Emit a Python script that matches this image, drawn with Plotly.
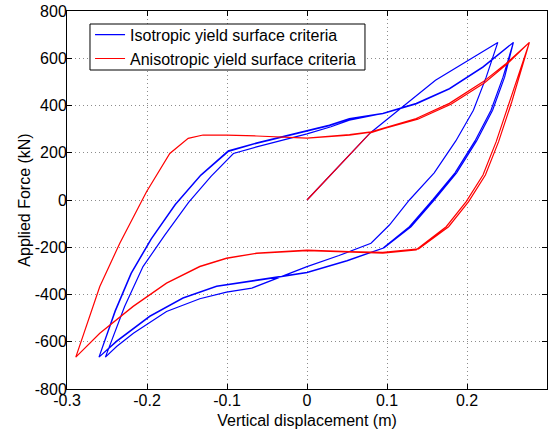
import plotly.graph_objects as go

# Isotropic yield surface criteria (blue): first (thin) cycle, then two repeated cycles
blue_x = [0, 0.079, 0.1606, 0.2385,
          0.224, 0.208, 0.186, 0.159, 0.128, 0.103, 0.080, 0.04, 0, -0.035, -0.069, -0.1006, -0.134, -0.1756, -0.217, -0.238, -0.252,
          -0.228, -0.205, -0.178, -0.148, -0.12, -0.092, -0.063, -0.03, 0.0, 0.03, 0.053,
          0.0948, 0.1365, 0.178, 0.22, 0.258,
          0.245, 0.23, 0.21, 0.185, 0.157, 0.128, 0.0948, 0.05, 0, -0.0555, -0.063, -0.113, -0.155, -0.1965, -0.238, -0.26,
          -0.24, -0.22, -0.195, -0.165, -0.133, -0.0985, -0.063, -0.022, 0.028, 0.053,
          0.0948, 0.1365, 0.178, 0.22, 0.258,
          0.247, 0.232, 0.212, 0.187, 0.159, 0.130, 0.0965, 0.05, 0, -0.0555, -0.063, -0.113, -0.155, -0.1965, -0.238, -0.26,
          -0.2395, -0.2195, -0.1945, -0.1645, -0.1325, -0.098, -0.063, -0.022, 0.028, 0.053,
          0.0948, 0.1365, 0.178, 0.22, 0.258]
blue_y = [0, 284, 507, 667,
          520, 380, 250, 115, 0, -106, -183, -235, -282, -328, -373, -390, -418, -472, -564, -620, -665,
          -451, -282, -150, -10, 100, 197, 225, 253, 280, 310, 338,
          367, 409, 472, 564, 667,
          520, 380, 250, 115, 0, -113, -204, -258, -308, -337, -341, -366, -416, -493, -599, -665,
          -470, -310, -165, -20, 105, 208, 242, 275, 317, 345,
          367, 409, 472, 564, 667,
          520, 380, 250, 115, 0, -113, -202, -256, -306, -335, -339, -364, -414, -491, -597, -665,
          -470, -310, -165, -20, 105, 206, 240, 273, 315, 343,
          365, 407, 470, 562, 667]

# Anisotropic yield surface criteria (red): initial loading then two cycles
red_x = [0, 0.079, 0.1365, 0.178, 0.22, 0.249, 0.278,
         0.253, 0.2365, 0.22, 0.199, 0.174, 0.1365, 0.0948, 0.0531, 0, -0.063, -0.1006, -0.134, -0.1756, -0.2173, -0.259, -0.289,
         -0.259, -0.234, -0.2006, -0.1715, -0.1485, -0.13, -0.1006, -0.063, -0.022, 0, 0.0531, 0.08, 0.1365, 0.178, 0.22, 0.249, 0.278,
         0.256, 0.2395, 0.223, 0.202, 0.177, 0.1395, 0.0948, 0.0531, 0, -0.063, -0.1006, -0.134, -0.1756, -0.2173, -0.259, -0.289,
         -0.259, -0.234, -0.2006, -0.1715, -0.1485, -0.13, -0.1006, -0.063, -0.022, 0, 0.0531, 0.08, 0.1385, 0.18, 0.222, 0.25, 0.278]
red_y = [0, 284, 345, 409, 500, 578, 667,
         416, 247, 106, -7, -113, -211, -225, -220, -214, -226, -247, -282, -352, -451, -564, -665,
         -366, -183, 35, 197, 261, 275, 275, 271, 265, 262, 277, 289, 345, 409, 500, 578, 667,
         416, 247, 106, -7, -113, -207, -222, -218, -212, -225, -246, -281, -351, -450, -564, -665,
         -366, -183, 35, 197, 261, 275, 275, 271, 265, 262, 275, 287, 342, 405, 496, 575, 667]

x_ticks = [-0.3, -0.2, -0.1, 0, 0.1, 0.2, 0.3]
x_labels = ["-0.3", "-0.2", "-0.1", "0", "0.1", "0.2", "0.3"]
y_ticks = [-800, -600, -400, -200, 0, 200, 400, 600, 800]
y_labels = ["-800", "-600", "-400", "-200", "0", "200", "400", "600", "800"]

font_family = "Liberation Sans, Arial, Helvetica, sans-serif"

fig = go.Figure()
fig.add_trace(go.Scatter(x=blue_x, y=blue_y, mode="lines", name="Isotropic yield surface criteria",
                         line=dict(color="#0000ff", width=1.2)))
fig.add_trace(go.Scatter(x=red_x, y=red_y, mode="lines", name="Anisotropic yield surface criteria",
                         line=dict(color="#ff0000", width=1.2)))

axis_common = dict(showline=True, linecolor="black", linewidth=1, mirror="allticks",
                   ticks="inside", ticklen=5, tickcolor="black", automargin=False,
                   showgrid=True, gridcolor="#8c8c8c", griddash="1px,3px", gridwidth=1,
                   zeroline=False, tickfont=dict(size=16, color="black", family=font_family))

fig.update_xaxes(range=[-0.3, 0.3], tickvals=x_ticks, ticktext=x_labels, ticklabelstandoff=-3,
                 title=dict(text="Vertical displacement (m)", font=dict(size=16, color="black", family=font_family), standoff=6),
                 **axis_common)
fig.update_yaxes(range=[-800, 800], tickvals=y_ticks, ticktext=y_labels, ticklabelstandoff=-4,
                 title=dict(text="Applied Force (kN)", font=dict(size=16, color="black", family=font_family), standoff=0),
                 **axis_common)

# legend frame (matches the boxed legend of the original)
fig.add_shape(type="rect", xref="paper", yref="paper",
              x0=0.0479, x1=0.6208, y0=0.8439, y1=0.9656,
              line=dict(color="black", width=1), fillcolor="white", layer="above")

fig.update_layout(
    width=558, height=434,
    margin=dict(l=67, r=11, t=11, b=45),
    plot_bgcolor="white", paper_bgcolor="white",
    font=dict(family=font_family, size=16, color="black"),
    legend=dict(x=0.048, y=0.982, xanchor="left", yanchor="top",
                bgcolor="rgba(0,0,0,0)", borderwidth=0,
                font=dict(size=16, color="black", family=font_family),
                tracegroupgap=0),
    showlegend=True,
)

fig.write_html("out.html", config={"displayModeBar": False},
               post_script="document.body.style.margin='0';document.body.style.overflow='hidden';")
